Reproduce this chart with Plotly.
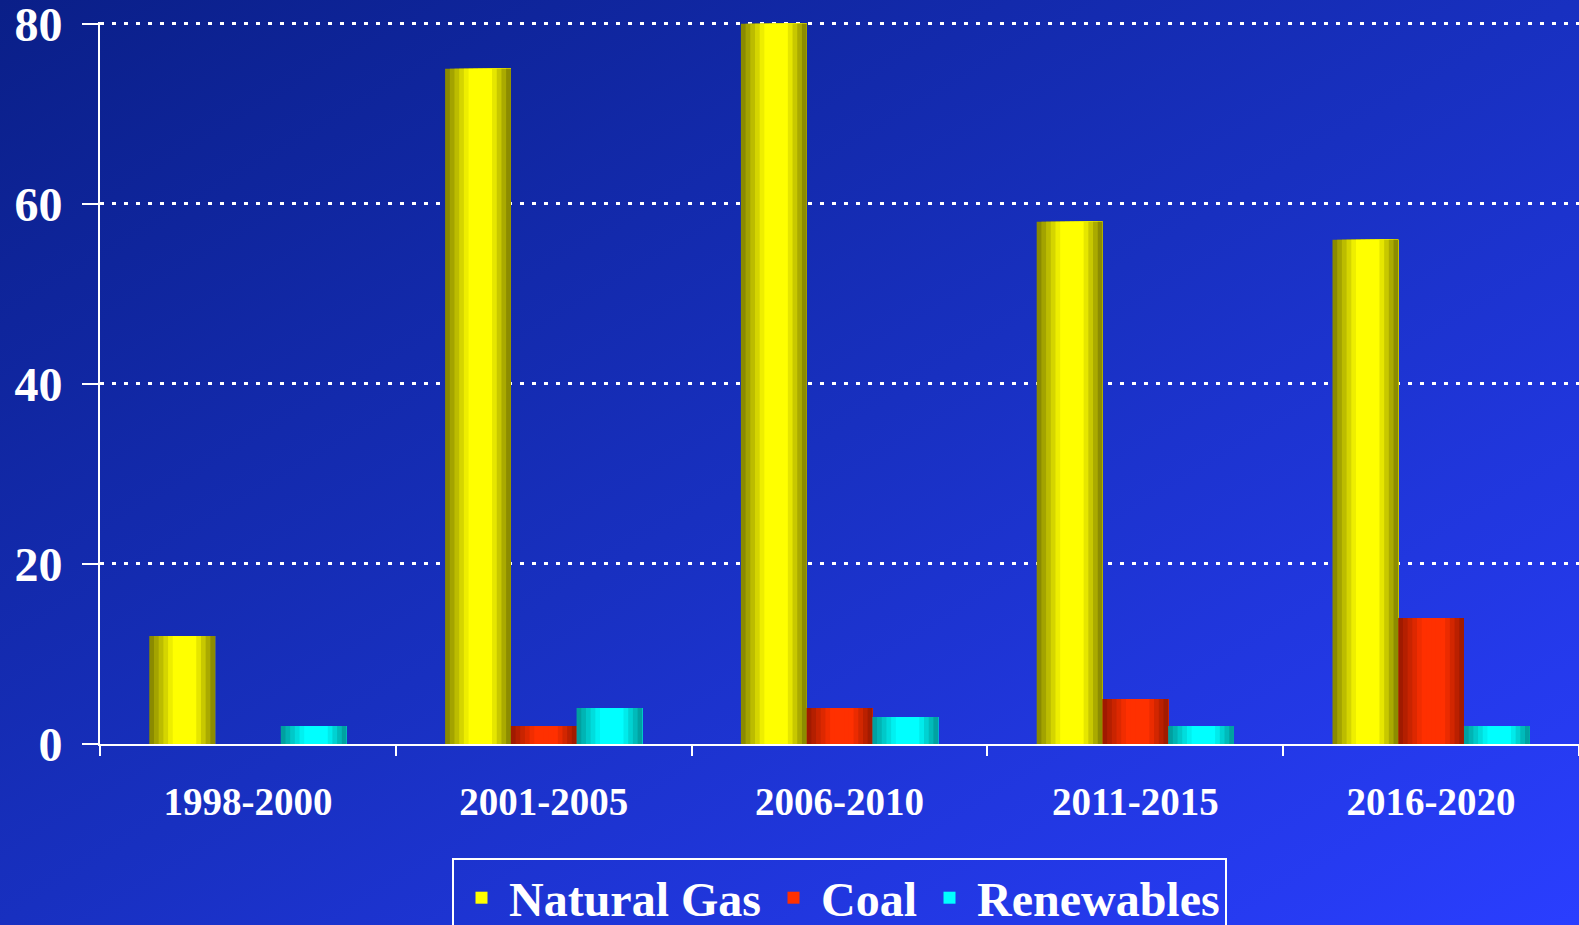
import base64
import plotly.graph_objects as go

# ---- data ----
categories = ["1998-2000", "2001-2005", "2006-2010", "2011-2015", "2016-2020"]
natural_gas = [12, 75, 80, 58, 56]
coal = [0, 2, 4, 5, 14]
renewables = [2, 4, 3, 2, 2]
y_tick_values = [0, 20, 40, 60, 80]
series_names = ["Natural Gas", "Coal", "Renewables"]

# ---- styling ----
W, H = 1579, 925
ML, MR, MT, MB = 100, 0, 22, 181
Y_TOP = 80.2
FONT = "Liberation Serif, Times New Roman, serif"
shade = {
    "Natural Gas": ((125, 125, 0), (255, 255, 0)),
    "Coal": ((150, 24, 0), (255, 48, 0)),
    "Renewables": ((0, 150, 150), (0, 255, 255)),
}
BAR_W = 2 / 9
N_STRIPS = 14


def profile(t):
    if t < 0.37:
        return t / 0.37
    if t > 0.69:
        return (1 - t) / 0.31
    return 1.0


fig = go.Figure()
values = {"Natural Gas": natural_gas, "Coal": coal, "Renewables": renewables}
for k, name in enumerate(series_names):
    dark, bright = shade[name]
    base_off = -1 / 3 + k * BAR_W
    step = BAR_W / N_STRIPS
    for i in range(N_STRIPS):
        t = (i + 0.5) / N_STRIPS
        g = profile(t)
        col = "rgb(%d,%d,%d)" % tuple(round(d + (b - d) * g) for d, b in zip(dark, bright))
        fig.add_trace(go.Bar(
            x=categories, y=values[name],
            offset=base_off + i * step,
            width=(N_STRIPS - i) * step,   # extends to bar's right edge; later strips overlay
            marker=dict(color=col, line=dict(width=0)),
            name=name, legendgroup=name,
            showlegend=(i == N_STRIPS // 2),
            hoverinfo="skip",
        ))

# gradient background as an svg image covering the whole figure
svg = (
    '<svg xmlns="http://www.w3.org/2000/svg" width="%d" height="%d" preserveAspectRatio="none">'
    '<defs><linearGradient id="g" x1="0" y1="0" x2="1" y2="1">'
    '<stop offset="0" stop-color="#0a1f88"/>'
    '<stop offset="0.5" stop-color="#1830c0"/>'
    '<stop offset="1" stop-color="#2a3eff"/>'
    '</linearGradient></defs>'
    '<rect width="100%%" height="100%%" fill="url(#g)"/></svg>' % (W, H)
)
src = "data:image/svg+xml;base64," + base64.b64encode(svg.encode()).decode()
pw, ph = W - ML - MR, H - MT - MB
fig.add_layout_image(dict(
    source=src, xref="paper", yref="paper",
    x=-ML / pw, y=1 + MT / ph, sizex=W / pw, sizey=H / ph,
    xanchor="left", yanchor="top", sizing="stretch", layer="below",
))

fig.update_layout(
    width=W, height=H, autosize=False,
    margin=dict(l=ML, r=MR, t=MT, b=MB, autoexpand=False),
    paper_bgcolor="#1428a8", plot_bgcolor="rgba(0,0,0,0)",
    barmode="overlay",
    font=dict(family=FONT, color="white", weight="bold"),
    legend=dict(
        orientation="h", x=0.5, xanchor="center", y=-(858 - (H - MB)) / ph, yanchor="top",
        bgcolor="rgba(0,0,0,0)", bordercolor="white", borderwidth=2,
        font=dict(family=FONT, size=48, color="white", weight="bold"),
        traceorder="normal", itemwidth=45,
    ),
    xaxis=dict(
        range=[-0.5, 4.5], showline=True, linecolor="white", linewidth=2,
        ticks="outside", tickson="boundaries", ticklen=10, tickwidth=2, tickcolor="white",
        tickfont=dict(family=FONT, size=39, color="white", weight="bold"),
        ticklabelstandoff=22, showgrid=False, zeroline=False,
    ),
    yaxis=dict(
        range=[0, Y_TOP], tickvals=y_tick_values, showline=True, linecolor="white", linewidth=2,
        ticks="outside", ticklen=16, tickwidth=2, tickcolor="white",
        tickfont=dict(family=FONT, size=48, color="white", weight="bold"),
        ticklabelstandoff=10, ticklabeloverflow="allow",
        showgrid=True, gridcolor="white", gridwidth=2.5, griddash="4px,8px", zeroline=False,
    ),
)

fig.write_html(
    "out.html",
    config={"displayModeBar": False},
    post_script="document.body.style.margin='0';document.body.style.overflow='hidden';",
)
